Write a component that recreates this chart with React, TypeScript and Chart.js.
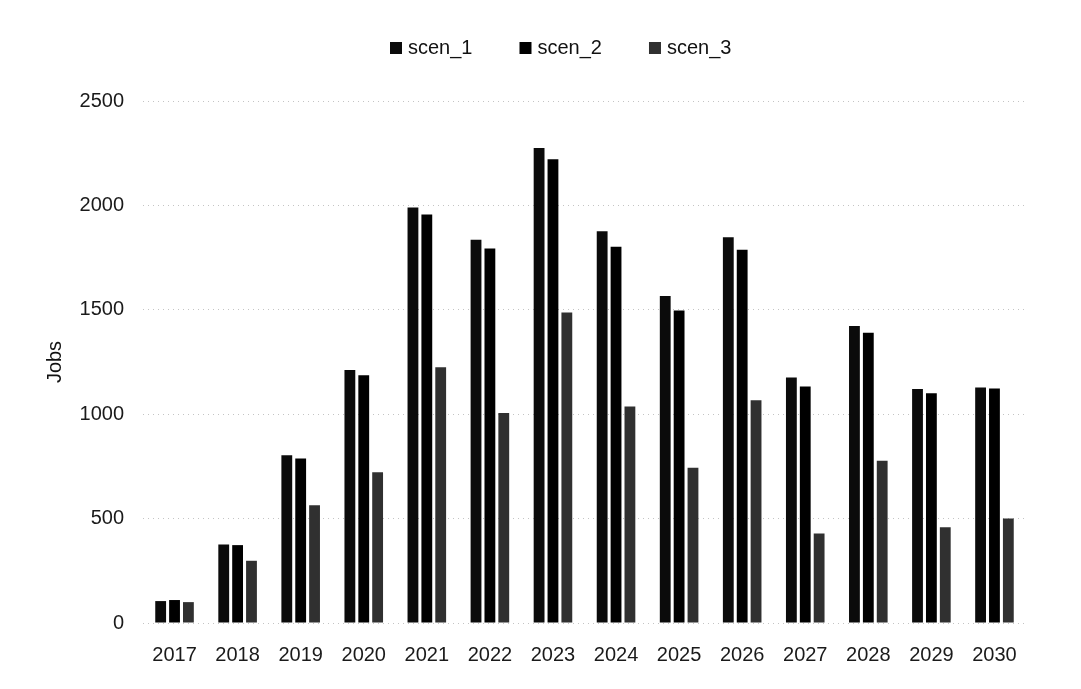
import React, { useEffect, useRef } from 'react';
import { Chart, registerables } from 'chart.js';

Chart.register(...registerables);

const categories = ['2017', '2018', '2019', '2020', '2021', '2022', '2023', '2024', '2025', '2026', '2027', '2028', '2029', '2030'];
const seriesNames = ['scen_1', 'scen_2', 'scen_3'];
const scen1 = [105, 376, 803, 1212, 1990, 1835, 2275, 1876, 1566, 1847, 1176, 1423, 1121, 1128];
const scen2 = [110, 373, 788, 1187, 1957, 1794, 2221, 1802, 1497, 1787, 1133, 1390, 1100, 1123];
const scen3 = [100, 298, 564, 722, 1225, 1006, 1487, 1037, 744, 1067, 429, 777, 458, 501];
const yTicks = [0, 500, 1000, 1500, 2000, 2500];

const FONT = '"Liberation Sans", Arial, sans-serif';

const legendPlugin = {
  id: 'topLegend',
  afterDraw(chart: any) {
    const ctx = chart.ctx;
    ctx.save();
    ctx.font = `20px ${FONT}`;
    ctx.textBaseline = 'middle';
    ctx.textAlign = 'left';
    let x = 390;
    const y = 48;
    chart.data.datasets.forEach((ds: any) => {
      ctx.fillStyle = ds.backgroundColor;
      ctx.fillRect(x, y - 6, 12, 12);
      ctx.fillStyle = '#111';
      ctx.fillText(ds.label, x + 18, y);
      x += 18 + ctx.measureText(ds.label).width + 47;
    });
    ctx.restore();
  },
};

export default function App() {
  const ref = useRef<HTMLCanvasElement | null>(null);

  useEffect(() => {
    if (!ref.current) return;
    const colors = ['#0b0b0b', '#000000', '#303030'];
    const values = [scen1, scen2, scen3];
    const chart = new Chart(ref.current, {
      type: 'bar',
      data: {
        labels: categories,
        datasets: seriesNames.map((name, i) => ({
          label: name,
          data: values[i],
          backgroundColor: colors[i],
          borderWidth: 0,
          categoryPercentage: 0.66,
          barPercentage: 0.78,
        })),
      },
      options: {
        responsive: true,
        maintainAspectRatio: false,
        animation: false,
        layout: { padding: { left: 43, right: 55, top: 101, bottom: 0 } },
        plugins: {
          legend: { display: false },
          tooltip: { enabled: false },
        },
        scales: {
          x: {
            grid: { display: false, drawTicks: false },
            border: { display: false },
            ticks: { font: { family: FONT, size: 20 }, color: '#1a1a1a', padding: 20, maxRotation: 0 },
            afterFit: (s: any) => { s.height = 66; },
          },
          y: {
            min: 0,
            max: 2500,
            afterBuildTicks: (s: any) => { s.ticks = yTicks.map((v) => ({ value: v })); },
            ticks: {
              font: { family: FONT, size: 20 },
              color: '#1a1a1a',
              padding: 19,
              callback: (v: any) => String(v),
            },
            grid: { color: '#c4c4c4', drawTicks: false, lineWidth: 1 },
            border: { display: false, dash: [1, 4] },
            title: {
              display: true,
              text: 'Jobs',
              font: { family: FONT, size: 20 },
              color: '#111',
              padding: 0,
            },
            afterFit: (s: any) => { s.width = 100; },
          },
        },
      },
      plugins: [legendPlugin],
    });
    return () => chart.destroy();
  }, []);

  return (
    <div style={{ position: 'absolute', left: 0, top: 0, width: 1081, height: 689, background: '#fff' }}>
      <canvas ref={ref} />
    </div>
  );
}
